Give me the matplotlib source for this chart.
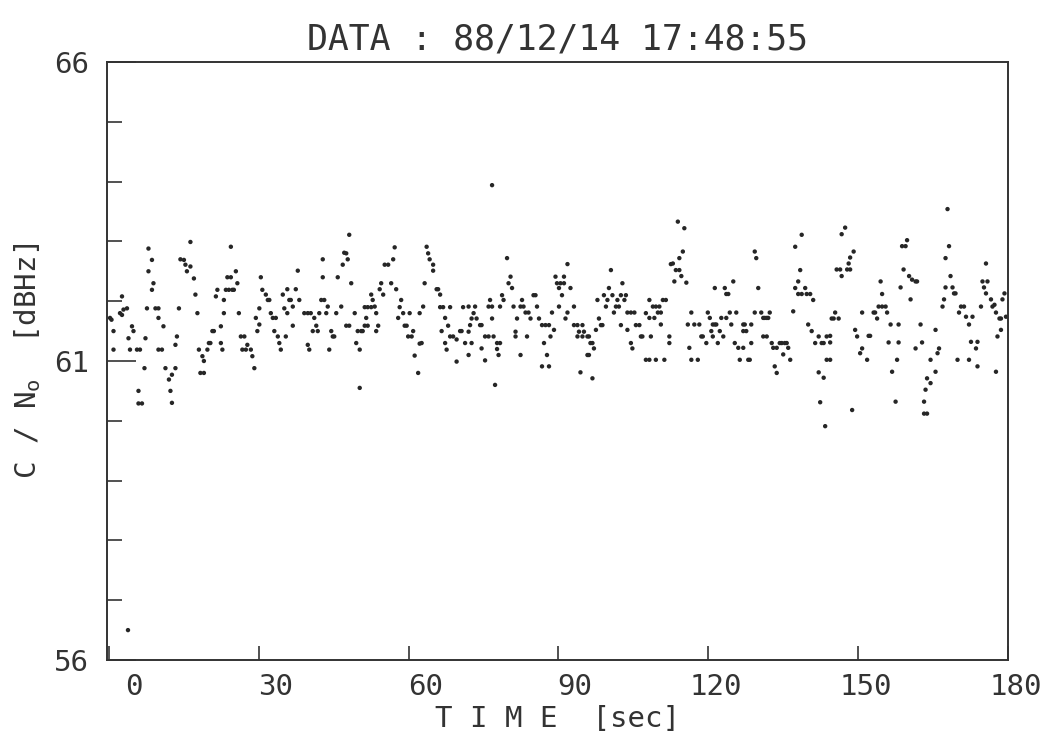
"""
C/No 時系列プロット（1988/12/14 の受信データ）
"""

import numpy as np
import matplotlib
matplotlib.use('Agg')
import matplotlib.pyplot as plt
from matplotlib.transforms import ScaledTranslation

plt.rcParams['font.family'] = ['DejaVu Sans Mono', 'DejaVu Sans']
plt.rcParams['mathtext.fontset'] = 'custom'
plt.rcParams['mathtext.rm'] = 'DejaVu Sans Mono'
plt.rcParams['mathtext.default'] = 'regular'

# --- 読み取り値 (時刻 [sec], C/No [dBHz]) ---
seg_0_35 = np.array([
    (0.2, 61.72), (0.5, 61.69), (0.9, 61.50), (2.2, 61.80), (2.6, 61.77), (2.9, 61.86),
    (3.6, 61.88), (2.6, 62.08), (3.9, 61.38), (4.6, 61.58), (4.9, 61.50), (4.2, 61.19),
    (5.6, 61.19), (6.2, 61.19), (0.9, 61.19), (7.1, 60.88), (7.3, 61.38), (7.6, 61.88),
    (7.9, 62.88), (8.6, 62.69), (7.9, 62.50), (8.9, 62.30), (8.6, 62.19), (9.3, 61.88),
    (9.9, 61.88), (9.9, 61.72), (10.9, 61.58), (9.9, 61.19), (10.6, 61.19), (11.3, 60.88),
    (13.3, 60.88), (12.6, 60.77), (12.0, 60.69), (12.3, 60.50), (12.6, 60.30), (5.9, 60.50),
    (5.9, 60.29), (6.6, 60.29), (13.6, 61.41), (13.3, 61.27), (14.0, 61.88), (14.3, 62.70),
    (15.0, 62.69), (15.3, 62.61), (15.6, 62.50), (16.3, 62.58), (16.3, 62.99), (17.0, 62.38),
    (17.3, 62.11), (17.7, 61.80), (18.0, 61.19), (18.7, 61.08), (19.0, 61.00), (18.3, 60.80),
    (19.0, 60.80), (19.7, 61.19), (20.0, 61.30), (20.3, 61.30), (20.7, 61.50), (21.0, 61.50),
    (21.4, 62.08), (21.7, 62.19), (22.4, 61.58), (22.4, 61.30), (22.7, 61.19), (23.0, 62.02),
    (23.4, 62.19), (23.0, 61.80), (23.7, 62.40), (24.4, 62.40), (24.0, 62.19), (24.7, 62.19),
    (25.0, 62.19), (25.4, 62.50), (24.4, 62.91), (25.7, 62.30), (26.0, 61.80), (26.4, 61.41),
    (27.1, 61.41), (26.7, 61.19), (27.4, 61.19), (27.7, 61.27), (28.4, 61.19), (28.7, 61.08),
    (29.1, 60.88), (29.7, 61.50), (30.1, 61.61), (29.4, 61.72), (30.1, 61.88), (30.4, 62.40),
    (30.7, 62.19), (31.4, 62.11), (31.8, 62.02), (32.1, 62.02), (32.4, 61.80), (32.8, 61.72),
    (33.4, 61.72), (33.1, 61.50), (33.8, 61.41), (34.1, 61.30), (34.4, 61.19), (34.8, 62.11),
    (35.1, 61.88), (35.4, 61.41), (3.8, 56.50),
])

seg_35_71 = np.array([
    (35.7, 62.20), (36.4, 62.02), (36.1, 62.02), (36.8, 61.91), (35.7, 61.80), (37.4, 62.20),
    (37.8, 62.51), (38.1, 62.02), (36.8, 61.59), (39.1, 61.80), (39.8, 61.80), (40.4, 61.80),
    (41.1, 61.72), (41.5, 61.59), (40.8, 61.50), (41.8, 61.50), (42.1, 61.80), (42.5, 62.02),
    (43.1, 62.02), (42.8, 62.40), (42.8, 62.70), (43.5, 61.80), (43.8, 61.91), (44.5, 61.50),
    (44.8, 61.41), (44.1, 61.19), (45.1, 61.41), (39.8, 61.27), (40.1, 61.19), (45.5, 61.80),
    (45.8, 62.40), (46.5, 61.91), (46.8, 62.61), (47.1, 62.81), (47.5, 62.80), (47.8, 62.70),
    (48.1, 63.11), (48.5, 62.30), (47.5, 61.59), (48.1, 61.59), (49.2, 61.80), (49.8, 61.50),
    (50.5, 61.50), (50.8, 61.50), (49.5, 61.30), (50.2, 61.19), (51.2, 61.59), (51.8, 61.59),
    (51.5, 61.72), (51.2, 61.90), (51.8, 61.90), (52.5, 62.11), (52.8, 62.02), (53.2, 61.91),
    (53.5, 61.80), (53.9, 61.59), (53.5, 61.50), (52.5, 61.90), (54.2, 62.20), (54.9, 62.11),
    (54.5, 62.30), (55.2, 62.61), (55.9, 62.61), (56.5, 62.30), (56.9, 62.70), (57.2, 62.90),
    (57.5, 62.20), (57.9, 61.72), (58.2, 61.90), (58.5, 62.02), (58.9, 61.80), (59.2, 61.59),
    (59.6, 61.59), (59.9, 61.41), (60.6, 61.41), (60.9, 61.50), (61.2, 61.09), (61.9, 60.80),
    (62.2, 61.29), (62.6, 61.30), (60.2, 61.80), (62.2, 61.80), (62.9, 61.91), (63.2, 62.30),
    (63.6, 62.91), (63.9, 62.80), (64.2, 62.70), (64.9, 62.61), (64.9, 62.51), (65.6, 62.20),
    (65.9, 62.20), (66.3, 62.11), (66.3, 61.90), (66.9, 61.90), (67.3, 61.72), (68.3, 61.90),
    (67.9, 61.59), (68.3, 61.41), (68.9, 61.41), (69.6, 61.36), (70.3, 61.50), (70.6, 61.50),
    (67.3, 61.30), (67.6, 61.19), (69.6, 60.99), (70.9, 61.90), (71.3, 61.30), (66.6, 61.50),
    (50.2, 60.55),
])

seg_71_107 = np.array([
    (76.7, 63.94), (79.7, 62.72), (80.4, 62.41), (80.0, 62.30), (80.7, 62.22), (78.7, 62.10),
    (79.0, 62.02), (76.3, 62.02), (76.0, 61.91), (76.7, 61.91), (73.3, 61.91), (72.0, 61.91),
    (73.0, 61.80), (73.6, 61.71), (72.6, 61.71), (72.3, 61.60), (74.3, 61.60), (74.6, 61.60),
    (72.0, 61.49), (72.6, 61.30), (72.0, 61.10), (74.6, 61.21), (75.3, 61.41), (76.0, 61.41),
    (77.0, 61.41), (76.7, 61.71), (77.7, 61.30), (78.3, 61.30), (77.7, 61.20), (78.0, 61.10),
    (75.3, 61.01), (77.3, 60.60), (78.3, 61.91), (81.0, 61.91), (81.7, 61.71), (82.4, 61.91),
    (82.7, 62.02), (83.0, 61.91), (83.4, 61.81), (84.0, 61.81), (84.4, 61.71), (85.0, 62.10),
    (85.4, 62.10), (85.7, 61.91), (86.1, 61.71), (81.4, 61.49), (81.4, 61.41), (82.4, 61.10),
    (83.7, 61.41), (86.7, 61.60), (87.4, 61.60), (88.1, 61.60), (87.7, 61.10), (86.7, 60.91),
    (88.1, 60.91), (87.1, 61.30), (88.4, 61.41), (88.7, 61.81), (89.1, 61.52), (89.4, 62.41),
    (89.7, 62.30), (90.1, 62.22), (90.4, 62.30), (91.1, 62.30), (90.7, 62.10), (91.1, 62.41),
    (91.8, 62.62), (92.4, 62.22), (90.1, 61.91), (91.8, 61.81), (91.4, 61.71), (93.1, 61.91),
    (93.1, 61.60), (93.8, 61.60), (94.8, 61.60), (94.1, 61.49), (95.1, 61.49), (94.8, 61.41),
    (93.8, 61.41), (95.8, 61.41), (96.1, 61.41), (96.4, 61.30), (96.8, 61.30), (97.1, 61.21),
    (95.8, 61.10), (96.1, 61.10), (94.4, 60.81), (96.8, 60.71), (97.5, 61.52), (97.8, 62.02),
    (98.1, 61.71), (99.1, 62.10), (99.5, 61.91), (99.8, 62.02), (100.1, 62.22), (100.5, 62.52),
    (100.8, 62.10), (101.1, 61.81), (101.5, 61.91), (101.8, 62.02), (102.1, 61.91), (102.5, 62.10),
    (102.8, 62.30), (103.2, 62.02), (103.5, 62.10), (103.8, 61.81), (104.5, 61.81), (105.2, 61.81),
    (105.5, 61.60), (103.8, 61.52), (104.5, 61.30), (104.8, 61.21), (106.2, 61.60), (106.5, 61.41),
    (106.8, 61.41), (107.5, 61.80), (107.5, 61.02), (98.5, 61.60), (98.8, 61.60), (102.5, 61.60),
])

seg_107_144 = np.array([
    (113.9, 63.33), (115.2, 63.22), (114.9, 62.83), (114.2, 62.72), (112.9, 62.63), (112.5, 62.62),
    (113.5, 62.52), (114.2, 62.52), (114.6, 62.42), (113.2, 62.33), (115.6, 62.31), (108.2, 62.02),
    (108.9, 61.91), (109.5, 61.91), (110.2, 61.91), (110.9, 62.02), (111.5, 62.02), (110.5, 61.81),
    (109.9, 61.81), (108.2, 61.72), (109.2, 61.72), (110.5, 61.61), (108.5, 61.41), (112.2, 61.41),
    (112.2, 61.30), (108.2, 61.02), (109.5, 61.02), (111.2, 61.02), (116.2, 61.22), (116.6, 61.02),
    (117.9, 61.02), (116.6, 61.81), (115.9, 61.61), (117.2, 61.61), (118.2, 61.61), (118.9, 61.41),
    (118.6, 61.41), (119.6, 61.30), (119.9, 61.81), (120.3, 61.72), (120.9, 61.61), (121.3, 61.61),
    (121.6, 61.61), (120.6, 61.50), (120.9, 61.41), (121.9, 61.30), (122.3, 61.50), (122.6, 61.72),
    (123.0, 61.41), (123.6, 61.72), (124.3, 61.81), (123.6, 62.12), (124.0, 62.12), (123.3, 62.22),
    (121.3, 62.22), (125.0, 62.33), (125.6, 61.81), (124.6, 61.61), (125.3, 61.30), (126.0, 61.22),
    (127.0, 61.22), (126.3, 61.02), (128.0, 61.02), (128.3, 61.02), (127.0, 61.61), (127.3, 61.61),
    (127.0, 61.50), (127.6, 61.50), (128.6, 61.61), (128.6, 61.30), (129.3, 61.81), (129.3, 62.83),
    (129.6, 62.72), (130.0, 62.22), (130.6, 61.81), (131.0, 61.72), (131.3, 61.72), (131.7, 61.72),
    (132.0, 61.72), (132.3, 61.81), (131.0, 61.41), (131.7, 61.41), (132.7, 61.30), (133.0, 61.22),
    (133.7, 61.22), (134.3, 61.30), (134.7, 61.30), (135.3, 61.30), (135.7, 61.30), (136.0, 61.22),
    (135.0, 61.11), (133.3, 60.91), (133.7, 60.80), (136.4, 61.02), (137.0, 61.83), (137.4, 62.91),
    (138.0, 62.33), (138.4, 62.52), (138.7, 63.11), (137.4, 62.22), (138.0, 62.12), (138.7, 62.12),
    (139.4, 62.22), (139.7, 62.12), (140.4, 62.12), (141.0, 62.02), (140.0, 61.61), (140.7, 61.50),
    (141.4, 61.30), (142.1, 61.41), (142.7, 61.30), (143.1, 61.30), (143.7, 61.41), (142.1, 60.81),
    (143.1, 60.72), (142.4, 60.31), (143.4, 59.91), (143.7, 61.02),
])

seg_144_180 = np.array([
    (147.4, 63.23), (146.7, 63.12), (149.1, 62.83), (148.4, 62.73), (148.1, 62.63), (147.8, 62.53),
    (148.4, 62.53), (145.7, 62.53), (146.4, 62.53), (146.7, 62.42), (145.1, 61.71), (144.7, 61.71),
    (145.4, 61.81), (146.1, 61.71), (144.4, 61.42), (144.4, 61.31), (144.4, 61.02), (149.4, 61.52),
    (149.8, 61.41), (152.4, 61.42), (152.1, 61.42), (150.8, 61.21), (150.4, 61.13), (151.8, 61.02),
    (150.8, 61.81), (153.1, 61.81), (153.4, 61.81), (154.1, 61.91), (154.8, 61.91), (155.5, 61.91),
    (155.8, 61.81), (153.8, 61.71), (154.5, 62.33), (154.8, 62.12), (156.5, 61.61), (158.1, 61.61),
    (156.1, 61.31), (158.1, 61.31), (157.8, 61.02), (156.8, 60.82), (157.5, 60.32), (148.8, 60.18),
    (158.8, 62.92), (159.5, 62.92), (159.8, 63.02), (159.1, 62.53), (160.2, 62.42), (160.8, 62.36),
    (161.5, 62.33), (161.8, 62.33), (158.5, 62.23), (160.5, 62.03), (162.5, 61.61), (161.5, 61.21),
    (162.8, 61.31), (163.5, 60.52), (163.8, 60.71), (164.5, 60.63), (163.2, 60.32), (163.2, 60.12),
    (163.8, 60.12), (164.5, 61.02), (165.5, 60.82), (165.5, 61.52), (165.9, 61.13), (166.2, 61.21),
    (166.9, 61.91), (167.2, 62.03), (167.9, 63.54), (168.2, 62.92), (167.5, 62.72), (168.5, 62.42),
    (168.9, 62.23), (169.2, 62.13), (169.5, 62.13), (167.5, 62.23), (170.2, 61.81), (170.6, 61.91),
    (171.2, 61.91), (171.6, 61.74), (172.2, 61.61), (172.9, 61.74), (172.2, 61.02), (172.6, 61.32),
    (173.9, 61.32), (173.6, 61.21), (173.9, 60.91), (169.9, 61.02), (174.6, 61.91), (174.9, 62.33),
    (175.6, 62.63), (175.2, 62.23), (175.6, 62.13), (175.9, 62.33), (176.6, 62.03), (177.3, 61.94),
    (176.9, 61.91), (177.6, 61.81), (178.3, 61.71), (178.9, 62.03), (179.3, 62.13), (178.6, 61.71),
    (179.6, 61.74), (177.6, 60.82), (177.9, 61.41), (178.6, 61.52),
])

x_ticks = [0, 30, 60, 90, 120, 150, 180]
y_ticks = [56, 61, 66]
title = 'DATA : 88/12/14 17:48:55'

data = np.vstack([seg_0_35, seg_35_71, seg_71_107, seg_107_144, seg_144_180])

fig = plt.figure(figsize=(10.43, 7.43), dpi=100)
ax = fig.add_axes([0.1026, 0.1117, 0.8638, 0.8049])

ax.scatter(data[:, 0], data[:, 1], s=10, color='#262626', edgecolors='none')

ax.set_xlim(-0.4, 180)
ax.set_ylim(56, 66)

# 目盛り（内向き）
ax.set_xticks(x_ticks)
ax.set_xticklabels([str(v) for v in x_ticks])
ax.set_xticks([60, 120], minor=True)
ax.set_yticks(y_ticks)
ax.set_yticklabels([str(v) for v in y_ticks])
ax.set_yticks(range(57, 66), minor=True)

ax.tick_params(axis='x', which='major', direction='in', length=10, width=1.2,
               pad=9, labelsize=21, colors='#333333')
ax.tick_params(axis='x', which='minor', direction='in', length=22, width=1.2,
               colors='#333333')
ax.tick_params(axis='y', which='major', direction='in', length=21, width=1.2,
               pad=13, labelsize=21, colors='#333333')
ax.tick_params(axis='y', which='minor', direction='in', length=11, width=1.2,
               colors='#333333')

# 横軸ラベルはティックの右側に寄せる
offset = ScaledTranslation(0.34, 0, fig.dpi_scale_trans)
for lab in ax.get_xticklabels():
    lab.set_horizontalalignment('right')
    lab.set_transform(lab.get_transform() + offset)

for sp in ax.spines.values():
    sp.set_color('#333333')
    sp.set_linewidth(1.4)

ax.set_title(title, fontsize=25, pad=9, color='#333333')
ax.set_xlabel('T I M E  [sec]', fontsize=21, labelpad=3, color='#333333')
ax.set_ylabel('C / N$_o$  [dBHz]', fontsize=21, color='#333333')
ax.yaxis.set_label_coords(-0.071, 0.5)

plt.savefig('out.png', dpi=100)
plt.close()
